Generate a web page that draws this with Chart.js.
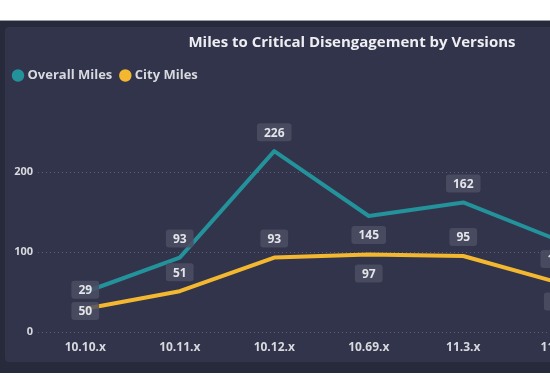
<!DOCTYPE html>
<html>
<head>
<meta charset="utf-8">
<script src="https://cdn.jsdelivr.net/npm/chart.js@4/dist/chart.umd.min.js"></script>
<style>
	html, body { margin: 0; padding: 0; background: #ffffff; width: 550px; height: 378px; overflow: hidden; }
	#frame { position: absolute; left: 0; top: 20px; width: 760px; height: 352px; background: #272a3b; border-top: 1px solid #9a9ba3; }
	#panel { position: absolute; left: 5px; top: 27px; width: 694px; height: 335px; background: #31344a; border-radius: 4px; }
	#chart { display: block; }
</style>
</head>
<body>
<div id="frame"></div>
<div id="panel"><canvas id="chart" width="694" height="335"></canvas></div>
<script>
const versions = ["10.10.x", "10.11.x", "10.12.x", "10.69.x", "11.3.x", "11.4.x"];
const overallMiles = [50, 93, 226, 145, 162, 115];
const cityMiles = [29, 51, 93, 97, 95, 62];
// where each value label sits relative to its point
const overallLabelSide = ["below", "above", "above", "below", "above", "below"];
const cityLabelSide = ["above", "above", "above", "below", "above", "below"];

const textColor = "#d8d9de";
const fontFamily = "'Open Sans', 'Noto Sans', sans-serif";

const valueLabels = {
	id: "valueLabels",
	afterDatasetsDraw(chart) {
		const ctx = chart.ctx;
		ctx.save();
		ctx.font = "700 12px " + fontFamily;
		ctx.textAlign = "center";
		ctx.textBaseline = "middle";
		chart.data.datasets.forEach((ds, i) => {
			const meta = chart.getDatasetMeta(i);
			meta.data.forEach((pt, j) => {
				const text = String(ds.data[j]);
				const w = ctx.measureText(text).width + 14;
				const h = 18;
				const y = pt.y + (ds.labelSide[j] === "above" ? -19 : 19);
				ctx.fillStyle = "rgba(76, 79, 100, 0.85)";
				ctx.beginPath();
				ctx.roundRect(pt.x - w / 2, y - h / 2, w, h, 3);
				ctx.fill();
				ctx.fillStyle = "#e4e5ea";
				ctx.fillText(text, pt.x, y + 1);
			});
		});
		ctx.restore();
	},
};

new Chart(document.getElementById("chart"), {
	type: "line",
	data: {
		labels: versions,
		datasets: [
			{
				label: "Overall Miles",
				data: overallMiles,
				labelSide: overallLabelSide,
				borderColor: "#23929b",
				backgroundColor: "#23929b",
				borderWidth: 4,
			},
			{
				label: "City Miles",
				data: cityMiles,
				labelSide: cityLabelSide,
				borderColor: "#f4b830",
				backgroundColor: "#f4b830",
				borderWidth: 4,
			},
		],
	},
	options: {
		responsive: false,
		animation: false,
		layout: {
			padding: 0,
		},
		elements: {
			line: { tension: 0, borderJoinStyle: "round" },
			point: { radius: 0 },
		},
		scales: {
			x: {
				offset: true,
				grid: { display: false },
				border: { display: false },
				ticks: {
					color: textColor,
					padding: 0,
					maxRotation: 0,
					font: { family: fontFamily, size: 12, weight: "700" },
				},
				afterFit(scale) {
					scale.height = 30;
				},
			},
			y: {
				min: 0,
				max: 300,
				border: { display: false, dash: [1, 3] },
				grid: {
					color: "#5c5f74",
					lineWidth: 1,
					drawTicks: false,
				},
				ticks: {
					stepSize: 100,
					color: textColor,
					padding: 5,
					font: { family: fontFamily, size: 11, weight: "700" },
				},
				afterBuildTicks(scale) {
					scale.ticks = scale.ticks.filter((t) => t.value <= 200);
				},
				afterFit(scale) {
					scale.width = 33;
				},
			},
			// empty space on the right of the plot, as in the visual
			spacer: {
				position: "right",
				grid: { display: false },
				border: { display: false },
				ticks: { display: false },
				afterFit(scale) {
					scale.width = 94;
				},
			},
		},
		plugins: {
			title: {
				display: true,
				text: "Miles to Critical Disengagement by Versions",
				color: "#eeeef2",
				padding: { top: 7, bottom: 7 },
				font: { family: fontFamily, size: 15, weight: "700" },
			},
			legend: {
				display: true,
				align: "start",
				labels: {
					usePointStyle: true,
					pointStyle: "circle",
					boxWidth: 6,
					boxHeight: 6,
					padding: 10,
					color: textColor,
					font: { family: fontFamily, size: 13, weight: "700" },
				},
			},
			tooltip: { enabled: false },
		},
	},
	plugins: [valueLabels],
});
</script>
</body>
</html>
